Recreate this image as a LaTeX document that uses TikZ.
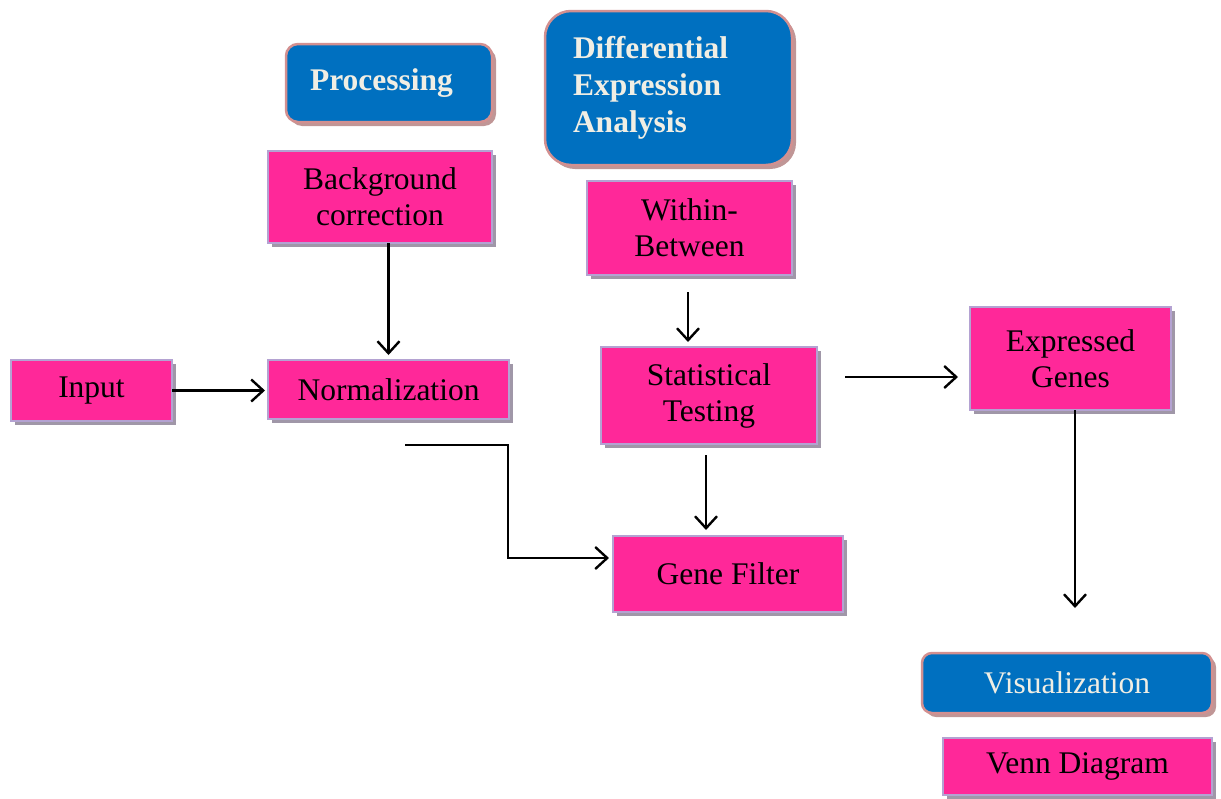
\documentclass[tikz,border=0pt]{standalone}
\usepackage{fontspec}
\setmainfont{Liberation Serif}
\usetikzlibrary{arrows.meta,shadows}
\definecolor{pinkfill}{HTML}{FF2899}
\definecolor{pinkborder}{HTML}{B4A2D2}
\definecolor{pinkshadow}{HTML}{A097A8}
\definecolor{bluefill}{HTML}{0070C0}
\definecolor{blueborder}{HTML}{D39090}
\definecolor{blueshadow}{HTML}{C09696}
\definecolor{lighttext}{HTML}{F0EEE4}
\begin{document}
\begin{tikzpicture}[x=1pt,y=-1pt,
  pinkbox/.style={draw=pinkborder,line width=2pt,fill=pinkfill,inner sep=0pt,outer sep=0pt,
    align=center,font=\fontsize{31.5}{36}\selectfont,text=black,
    drop shadow={shadow xshift=4pt,shadow yshift=-4pt,fill=pinkshadow,opacity=1}},
  bluebox/.style={draw=blueborder,line width=2.5pt,fill=bluefill,inner sep=0pt,outer sep=0pt,
    text=lighttext,
    drop shadow={shadow xshift=4pt,shadow yshift=-4pt,fill=blueshadow,opacity=1}},
  arr/.style={draw=black,line width=2.4pt,-{Straight Barb[length=12pt,width=22pt]}}
]
\useasboundingbox (0,0) rectangle (1221,798);

% blue header boxes
\node[bluebox,rounded corners=12pt,minimum width=206pt,minimum height=78pt,
  font=\fontsize{31.5}{37}\selectfont\bfseries,align=left,text width=158pt,inner xsep=24pt]
  (proc) at (389,83) {Processing};
\node[bluebox,rounded corners=26pt,minimum width=247pt,minimum height=154pt,
  font=\fontsize{31.5}{37}\selectfont\bfseries,align=left,text width=191pt,inner xsep=28pt]
  (dea) at (668.5,88) {Differential\\Expression\\Analysis\\[-6pt]};
\node[bluebox,rounded corners=10pt,minimum width=290pt,minimum height=60pt,
  font=\fontsize{31.5}{36}\selectfont] (vis) at (1067,683) {Visualization};

% pink boxes
\node[pinkbox,minimum width=224pt,minimum height=92pt] (bg) at (380,197) {Background\\correction};
\node[pinkbox,minimum width=205pt,minimum height=94pt] (wb) at (689.5,228) {Within-\\Between};
\node[pinkbox,minimum width=161pt,minimum height=61pt] (inp) at (91.5,390.5) {Input};
\node[pinkbox,minimum width=241pt,minimum height=59pt] (norm) at (388.5,389.5) {Normalization};
\node[pinkbox,minimum width=216pt,minimum height=97pt] (stat) at (709,395.5) {Statistical\\Testing};
\node[pinkbox,minimum width=230pt,minimum height=76pt] (gf) at (728,574) {Gene Filter};
\node[pinkbox,minimum width=201pt,minimum height=103pt] (eg) at (1070.5,358.5) {Expressed\\Genes};
\node[pinkbox,minimum width=269pt,minimum height=57pt] (venn) at (1077.5,766.5) {Venn Diagram};

% free ends of connectors
\coordinate (n1) at (405,445);
\coordinate (n2) at (508,445);
\coordinate (g1) at (609,558);
\coordinate (w1) at (688,292);
\coordinate (w2) at (688,342);
\coordinate (s1) at (706,455);
\coordinate (s2) at (706,530);
\coordinate (e1) at (845,377);
\coordinate (e2) at (958,377);
\coordinate (v1) at (1075,608);

% connectors
\draw[arr] (bg.south -| norm.north) -- ([yshift=5pt]norm.north);
\draw[arr] (inp.east) -- ([xshift=-3pt]inp.east -| norm.west);
\draw[arr] (n1) -- (n2) |- (g1);
\draw[arr] (w1) -- (w2);
\draw[arr] (s1) -- (s2);
\draw[arr] (e1) -- (e2);
\draw[arr] (eg.south -| v1) -- (v1);
\end{tikzpicture}
\end{document}
